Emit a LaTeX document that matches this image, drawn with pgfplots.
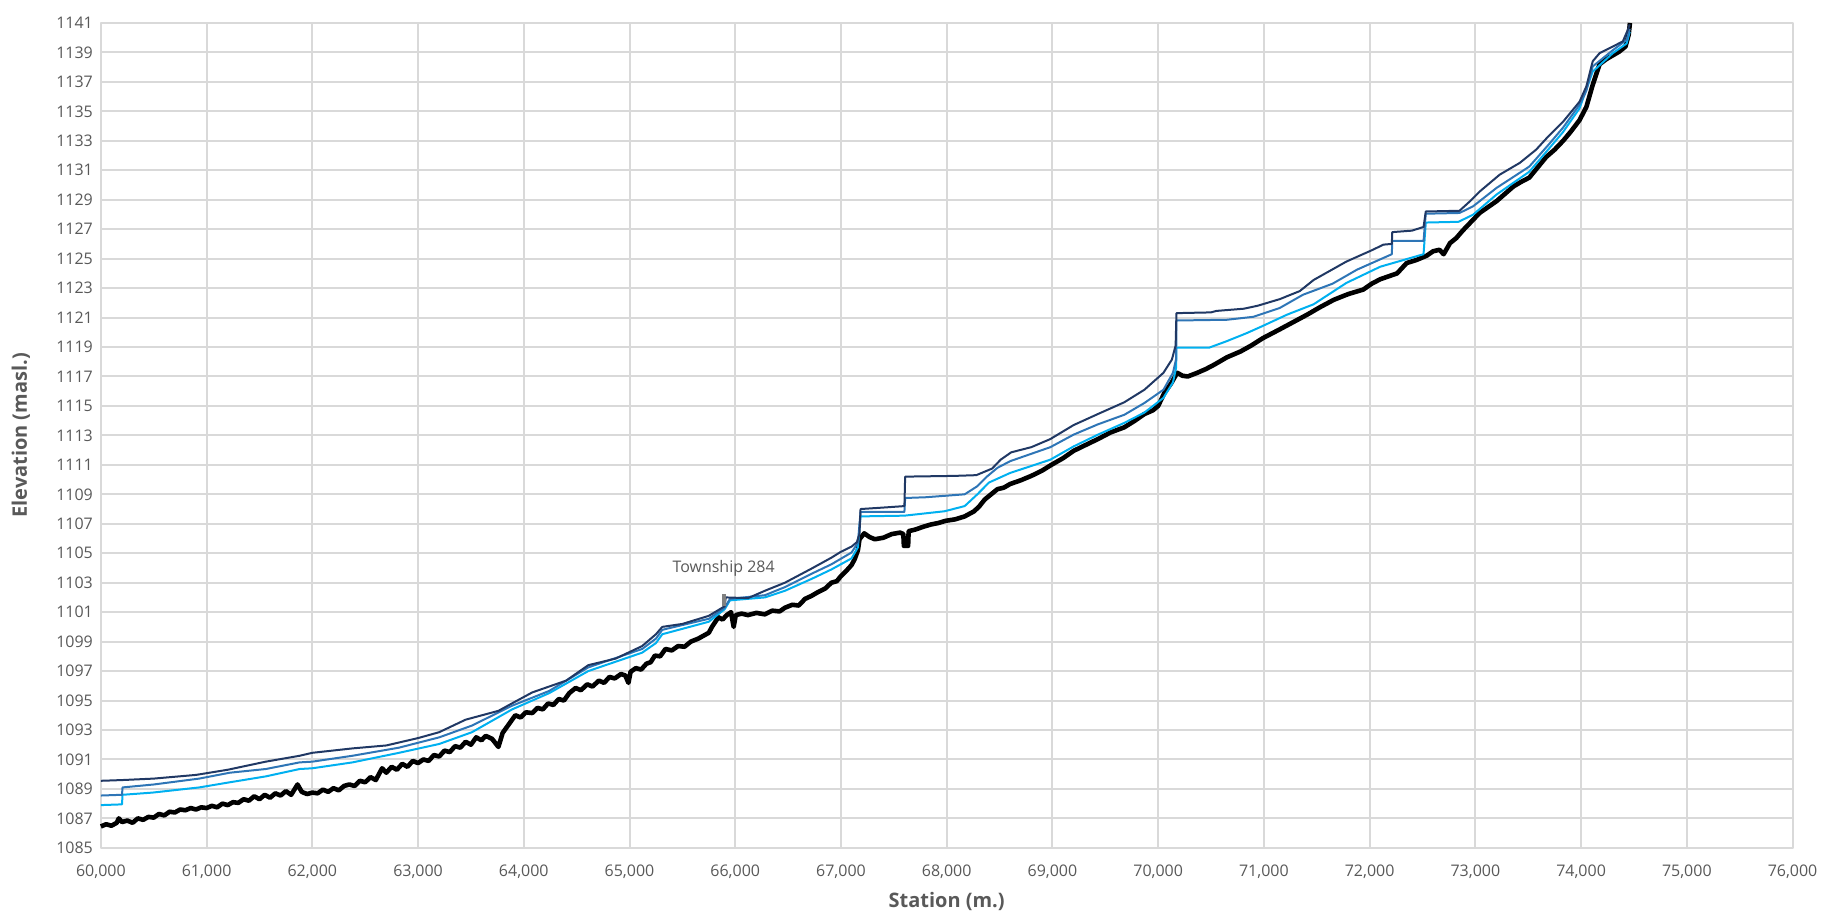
\documentclass[border=0pt]{standalone}
\usepackage{pgfplots}
\pgfplotsset{compat=1.18}
\usepackage{fontspec}
\setmainfont{Open Sans}
\definecolor{navyc}{RGB}{32,56,100}
\definecolor{medc}{RGB}{46,117,182}
\definecolor{lightc}{RGB}{0,176,240}
\definecolor{gridgray}{RGB}{217,217,217}
\definecolor{labelgray}{RGB}{89,89,89}
\begin{document}
\begin{tikzpicture}
\begin{axis}[name=ax, scale only axis, width=847pt, height=413pt,
  xmin=60000, xmax=76000, ymin=1085, ymax=1141,
  xtick={60000,61000,62000,63000,64000,65000,66000,67000,68000,69000,70000,71000,72000,73000,74000,75000,76000},
  ytick={1085,1087,1089,1091,1093,1095,1097,1099,1101,1103,1105,1107,1109,1111,1113,1115,1117,1119,1121,1123,1125,1127,1129,1131,1133,1135,1137,1139,1141},
  scaled x ticks=false, scaled y ticks=false,
  grid=major, major grid style={draw=gridgray, line width=1pt},
  axis line style={draw=gridgray, line width=1pt},
  tick style={draw=none}, major tick length=0pt,
  ticklabel style={font=\fontsize{8}{9.6}\selectfont, text=labelgray},
  /pgf/number format/assume math mode=true,
  x tick label style={/pgf/number format/fixed, /pgf/number format/1000 sep={,}, yshift=-5pt},
  y tick label style={/pgf/number format/fixed, /pgf/number format/1000 sep={}, xshift=-0.5pt},
  clip=false,
  line join=round,
]
% ground
\addplot[black, line width=2.3pt, no marks] coordinates {
(60000,1086.45)(60050,1086.6)(60100,1086.5)(60150,1086.7)(60170,1087.0)(60200,1086.75)(60250,1086.85)(60300,1086.7)(60350,1087.0)(60400,1086.9)(60450,1087.1)(60500,1087.05)(60550,1087.3)(60600,1087.2)(60650,1087.45)(60700,1087.4)(60750,1087.6)(60800,1087.55)(60850,1087.7)(60900,1087.6)(60950,1087.75)(61000,1087.7)(61050,1087.85)(61100,1087.75)(61150,1088.0)(61200,1087.9)(61250,1088.1)(61300,1088.05)(61350,1088.3)(61400,1088.2)(61450,1088.5)(61500,1088.3)(61550,1088.6)(61600,1088.4)(61650,1088.7)(61700,1088.55)(61750,1088.85)(61800,1088.6)(61860,1089.3)(61900,1088.8)(61950,1088.65)(62000,1088.75)(62050,1088.7)(62100,1088.95)(62150,1088.8)(62200,1089.05)(62250,1088.9)(62300,1089.2)(62350,1089.3)(62400,1089.2)(62450,1089.55)(62500,1089.45)(62550,1089.8)(62600,1089.6)(62660,1090.4)(62700,1090.1)(62750,1090.5)(62800,1090.3)(62850,1090.7)(62900,1090.5)(62950,1090.9)(63000,1090.75)(63050,1091.0)(63100,1090.9)(63150,1091.3)(63200,1091.2)(63250,1091.6)(63300,1091.5)(63350,1091.9)(63400,1091.8)(63450,1092.2)(63500,1092.0)(63550,1092.5)(63600,1092.3)(63640,1092.6)(63700,1092.4)(63760,1091.85)(63800,1092.8)(63830,1093.1)(63880,1093.6)(63920,1094.0)(63970,1093.85)(64020,1094.2)(64080,1094.15)(64130,1094.5)(64180,1094.4)(64230,1094.8)(64280,1094.7)(64330,1095.1)(64380,1095.0)(64430,1095.5)(64490,1095.85)(64540,1095.7)(64600,1096.1)(64650,1095.95)(64710,1096.35)(64760,1096.2)(64810,1096.6)(64860,1096.5)(64920,1096.8)(64960,1096.7)(64990,1096.2)(65010,1096.95)(65060,1097.2)(65110,1097.1)(65160,1097.5)(65200,1097.6)(65240,1098.05)(65290,1098.0)(65340,1098.5)(65400,1098.4)(65460,1098.7)(65520,1098.65)(65580,1099.0)(65650,1099.2)(65700,1099.4)(65750,1099.6)(65780,1100.0)(65840,1100.65)(65880,1100.5)(65920,1100.8)(65960,1101.0)(65985,1100.0)(66005,1100.8)(66060,1100.9)(66120,1100.8)(66200,1100.95)(66280,1100.85)(66350,1101.1)(66420,1101.05)(66470,1101.3)(66540,1101.5)(66600,1101.45)(66660,1101.9)(66720,1102.1)(66780,1102.35)(66850,1102.6)(66910,1103.0)(66960,1103.1)(67000,1103.45)(67050,1103.8)(67100,1104.2)(67130,1104.6)(67160,1105.2)(67175,1105.95)(67220,1106.35)(67270,1106.1)(67320,1105.95)(67400,1106.05)(67480,1106.3)(67560,1106.4)(67590,1106.3)(67595,1105.5)(67635,1105.5)(67640,1106.5)(67700,1106.6)(67780,1106.8)(67850,1106.95)(67920,1107.05)(67990,1107.2)(68080,1107.3)(68170,1107.5)(68260,1107.85)(68310,1108.2)(68360,1108.65)(68420,1109.0)(68480,1109.35)(68540,1109.45)(68600,1109.7)(68700,1109.95)(68800,1110.25)(68900,1110.6)(68990,1111.0)(69100,1111.45)(69200,1111.95)(69300,1112.3)(69430,1112.75)(69550,1113.2)(69680,1113.55)(69780,1114.0)(69870,1114.45)(69950,1114.7)(70000,1115.0)(70060,1115.9)(70120,1116.5)(70180,1117.25)(70230,1117.05)(70280,1117.0)(70370,1117.25)(70450,1117.5)(70530,1117.8)(70650,1118.3)(70780,1118.7)(70880,1119.1)(70990,1119.6)(71070,1119.9)(71150,1120.2)(71280,1120.7)(71410,1121.2)(71530,1121.7)(71660,1122.2)(71800,1122.6)(71940,1122.9)(72020,1123.3)(72100,1123.6)(72180,1123.8)(72260,1124.0)(72350,1124.7)(72440,1124.9)(72540,1125.2)(72600,1125.5)(72660,1125.6)(72700,1125.3)(72760,1126.05)(72820,1126.4)(72880,1126.9)(72960,1127.5)(73040,1128.1)(73120,1128.5)(73200,1128.9)(73280,1129.4)(73360,1129.9)(73430,1130.2)(73510,1130.5)(73590,1131.2)(73670,1131.9)(73750,1132.4)(73830,1133.0)(73900,1133.6)(73985,1134.4)(74050,1135.3)(74110,1136.8)(74175,1138.2)(74240,1138.55)(74300,1138.8)(74360,1139.05)(74420,1139.4)(74450,1140.2)(74462,1141.0)
};
% light blue
\addplot[lightc, line width=1pt, no marks] coordinates {
(60000,1087.9)(60200,1087.95)(60205,1088.6)(60490,1088.75)(60930,1089.1)(61220,1089.45)(61560,1089.85)(61880,1090.35)(62000,1090.4)(62380,1090.8)(62820,1091.45)(63200,1092.05)(63510,1092.85)(63890,1094.4)(64240,1095.5)(64610,1097.0)(65120,1098.25)(65250,1098.9)(65310,1099.5)(65750,1100.35)(65900,1101.2)(65950,1101.8)(66280,1102.0)(66470,1102.45)(66720,1103.25)(66910,1103.9)(67100,1104.65)(67160,1105.4)(67185,1107.5)(67600,1107.55)(67980,1107.85)(68170,1108.2)(68290,1109.0)(68400,1109.8)(68600,1110.45)(68980,1111.35)(69200,1112.25)(69430,1113.05)(69680,1113.85)(69870,1114.55)(70050,1115.55)(70140,1116.6)(70170,1117.6)(70173,1118.95)(70480,1118.95)(70650,1119.4)(70840,1119.95)(70980,1120.4)(71220,1121.2)(71470,1121.9)(71780,1123.35)(72100,1124.45)(72510,1125.3)(72531,1127.45)(72840,1127.5)(72978,1127.98)(73200,1129.35)(73510,1130.9)(73700,1132.5)(73830,1133.6)(73985,1135.2)(74110,1137.7)(74300,1138.95)(74430,1139.6)(74460,1140.4)
};
% medium blue
\addplot[medc, line width=1pt, no marks] coordinates {
(60000,1088.55)(60200,1088.6)(60205,1089.1)(60500,1089.3)(60930,1089.7)(61220,1090.1)(61560,1090.35)(61880,1090.8)(62000,1090.85)(62380,1091.25)(62820,1091.8)(63200,1092.5)(63510,1093.3)(63890,1094.65)(64240,1095.65)(64610,1097.25)(65120,1098.5)(65250,1099.2)(65310,1099.8)(65750,1100.55)(65900,1101.3)(65950,1101.9)(66280,1102.15)(66470,1102.7)(66720,1103.6)(66910,1104.25)(67100,1105.05)(67160,1105.7)(67185,1107.8)(67600,1107.8)(67607,1108.75)(67800,1108.8)(68170,1109.0)(68290,1109.55)(68380,1110.2)(68480,1110.8)(68600,1111.25)(68980,1112.2)(69200,1113.05)(69430,1113.75)(69680,1114.4)(69870,1115.2)(70050,1116.1)(70140,1117.25)(70170,1118.2)(70173,1120.8)(70650,1120.85)(70900,1121.05)(71150,1121.65)(71370,1122.55)(71650,1123.3)(71880,1124.25)(72210,1125.3)(72214,1126.2)(72510,1126.2)(72531,1128.05)(72850,1128.1)(72978,1128.55)(73200,1129.8)(73510,1131.25)(73700,1132.8)(73830,1133.9)(73985,1135.45)(74050,1136.4)(74110,1138.05)(74300,1139.15)(74430,1139.85)(74460,1140.6)
};
% navy
\addplot[navyc, line width=1pt, no marks] coordinates {
(60000,1089.55)(60200,1089.6)(60500,1089.7)(60900,1089.95)(61200,1090.3)(61560,1090.85)(61880,1091.25)(62000,1091.45)(62380,1091.75)(62700,1091.95)(63000,1092.45)(63200,1092.85)(63450,1093.7)(63760,1094.3)(63900,1094.85)(64080,1095.55)(64400,1096.35)(64610,1097.4)(64870,1097.85)(65120,1098.7)(65250,1099.5)(65310,1100.0)(65500,1100.2)(65750,1100.75)(65900,1101.4)(65910,1102.0)(66120,1101.95)(66280,1102.45)(66470,1103.0)(66720,1103.95)(66910,1104.7)(67000,1105.1)(67100,1105.45)(67150,1105.75)(67175,1106.3)(67185,1108.0)(67400,1108.1)(67600,1108.2)(67607,1110.2)(68070,1110.25)(68280,1110.3)(68430,1110.75)(68510,1111.35)(68610,1111.85)(68800,1112.2)(68980,1112.75)(69200,1113.7)(69430,1114.45)(69680,1115.25)(69870,1116.1)(70050,1117.25)(70130,1118.15)(70165,1119.1)(70173,1121.3)(70500,1121.35)(70550,1121.45)(70810,1121.6)(70940,1121.8)(71150,1122.25)(71340,1122.8)(71470,1123.55)(71780,1124.8)(72030,1125.6)(72130,1125.95)(72210,1126.0)(72214,1126.8)(72400,1126.9)(72510,1127.15)(72531,1128.2)(72850,1128.25)(72950,1128.9)(73040,1129.55)(73230,1130.7)(73420,1131.5)(73575,1132.4)(73690,1133.3)(73830,1134.3)(73985,1135.65)(74050,1136.7)(74110,1138.4)(74175,1138.95)(74300,1139.4)(74395,1139.75)(74440,1140.5)(74460,1140.9)
};
% Township 284 marker
\addplot[gray, line width=2pt, no marks] coordinates {(65890,1101.4)(65890,1102.2)};
\node[font=\fontsize{8}{9.6}\selectfont, text=labelgray] at (axis cs:65890,1104.0) {Township 284};
\end{axis}
\node[font=\fontsize{10}{12}\selectfont\bfseries, text=labelgray] at ([yshift=-27pt]ax.south) {Station (m.)};
\node[rotate=90, font=\fontsize{10}{12}\selectfont\bfseries, text=labelgray] at ([xshift=-40pt]ax.west) {Elevation (masl.)};
\path (ax.south west) ++(-50.5pt,-34.5pt) rectangle ([shift={(14.5pt,11.5pt)}]ax.north east);
\end{tikzpicture}
\end{document}
